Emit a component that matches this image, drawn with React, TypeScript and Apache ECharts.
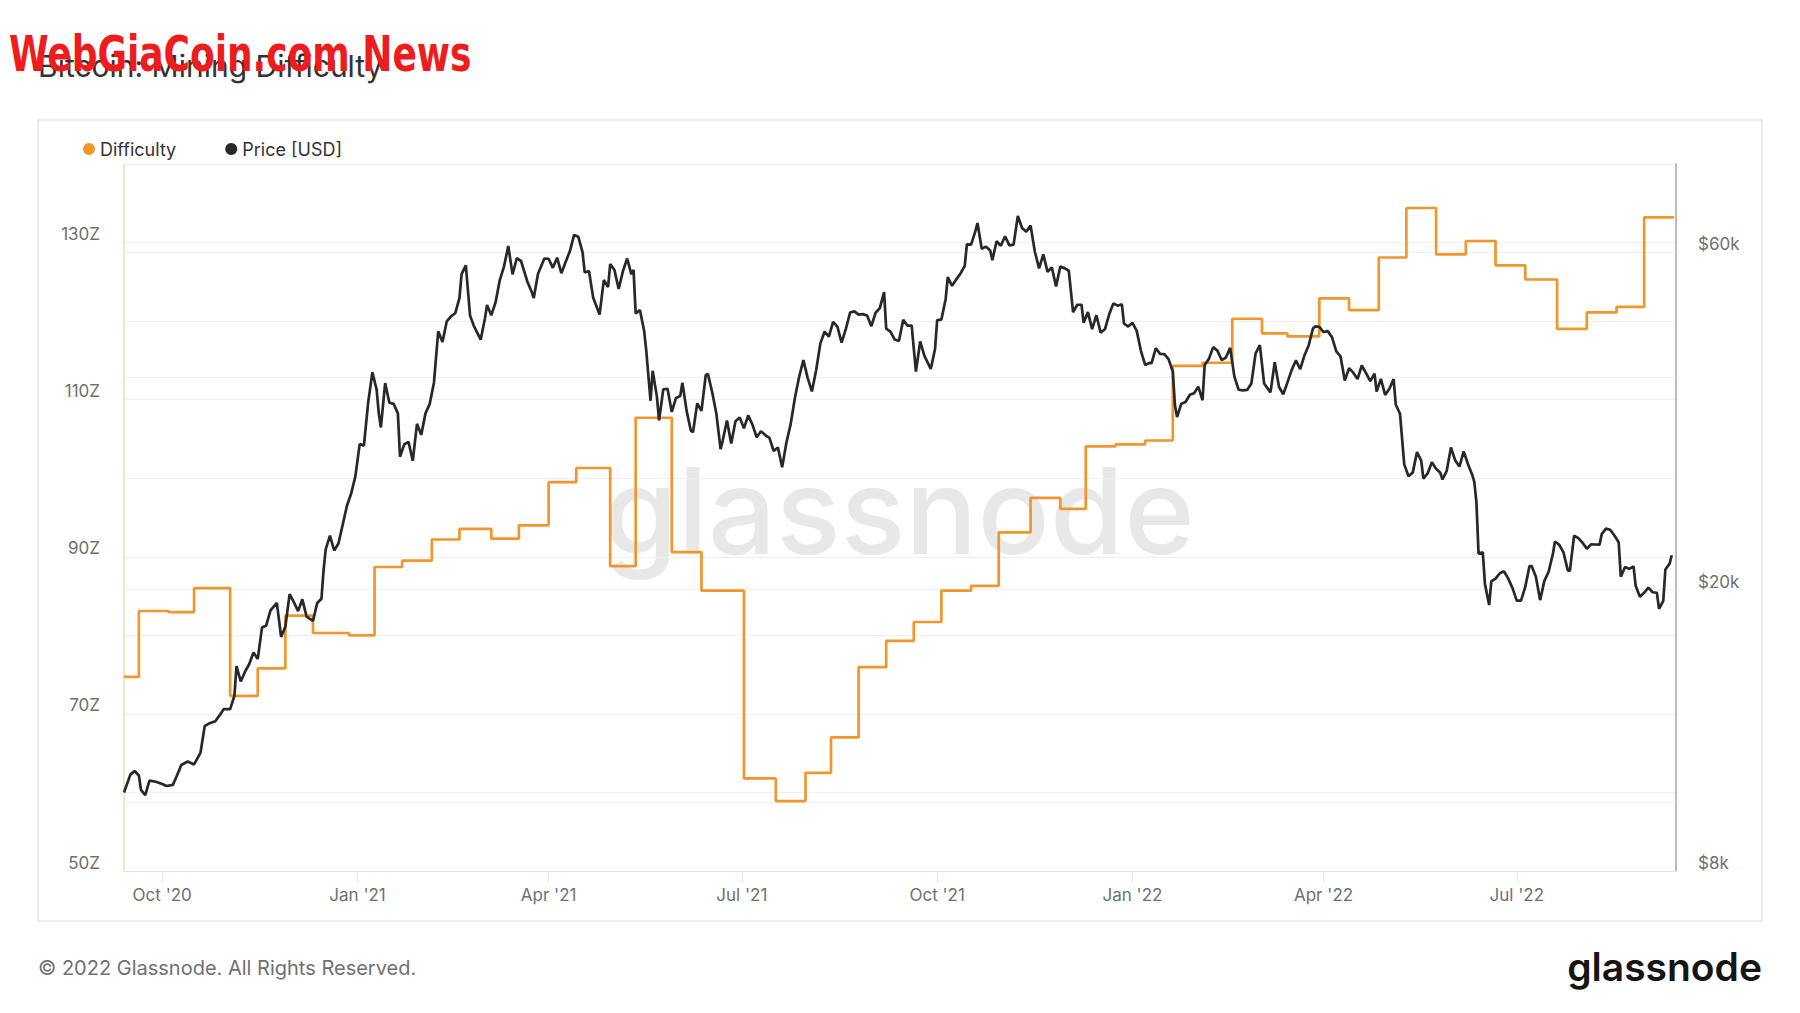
import React, { useEffect, useRef } from "react";
import * as echarts from "echarts";

// ---------- data ----------
const xRange: [string, string] = ["2020-09-13", "2022-09-14"];
const xTickDates = ["2020-10-01", "2021-01-01", "2021-04-01", "2021-07-01", "2021-10-01", "2022-01-01", "2022-04-01", "2022-07-01"];

const diffAxis = { min: 50, max: 140, interval: 10 };
const diffLabelValues = [50, 70, 90, 110, 130];
const priceAxis = { min: 8000, max: 80000 };
const priceGridValues = [10000, 20000, 40000, 60000];
const priceLabelValues = [8000, 20000, 60000];

// Difficulty (Z hashes), value holds from the date to the next one
const difficultySteps: [string, number][] = [
  ["2020-09-13", 74.7], ["2020-09-20", 83.1], ["2020-10-04", 82.95], ["2020-10-16", 86.0],
  ["2020-11-02", 72.3], ["2020-11-15", 75.8], ["2020-11-28", 82.5], ["2020-12-11", 80.3],
  ["2020-12-28", 80.0], ["2021-01-09", 88.7], ["2021-01-22", 89.5], ["2021-02-05", 92.2],
  ["2021-02-18", 93.55], ["2021-03-05", 92.3], ["2021-03-18", 94.0], ["2021-04-01", 99.5],
  ["2021-04-14", 101.3], ["2021-04-30", 88.8], ["2021-05-12", 107.7], ["2021-05-29", 90.6],
  ["2021-06-12", 85.7], ["2021-07-02", 61.8], ["2021-07-17", 58.9], ["2021-07-31", 62.5],
  ["2021-08-12", 67.0], ["2021-08-25", 75.95], ["2021-09-07", 79.3], ["2021-09-20", 81.7],
  ["2021-10-03", 85.7], ["2021-10-17", 86.3], ["2021-10-30", 93.1], ["2021-11-14", 97.5],
  ["2021-11-28", 96.1], ["2021-12-10", 104.05], ["2021-12-24", 104.3], ["2022-01-07", 104.8],
  ["2022-01-20", 114.3], ["2022-02-03", 114.7], ["2022-02-17", 120.3], ["2022-03-03", 118.45],
  ["2022-03-15", 118.05], ["2022-03-30", 122.9], ["2022-04-13", 121.4], ["2022-04-27", 128.1],
  ["2022-05-10", 134.4], ["2022-05-24", 128.5], ["2022-06-07", 130.2], ["2022-06-21", 127.1],
  ["2022-07-05", 125.3], ["2022-07-20", 119.0], ["2022-08-03", 121.1], ["2022-08-17", 121.8],
  ["2022-08-30", 133.2], ["2022-09-13", 133.2],
];

// Price [USD]
const price2020: [string, number][] = [
  ["2020-09-13", 10330], ["2020-09-16", 10950], ["2020-09-18", 11080], ["2020-09-20", 10920],
  ["2020-09-21", 10420], ["2020-09-23", 10240], ["2020-09-25", 10740], ["2020-09-28", 10700],
  ["2020-10-01", 10620], ["2020-10-03", 10550], ["2020-10-06", 10590], ["2020-10-08", 10930],
  ["2020-10-10", 11300], ["2020-10-13", 11430], ["2020-10-16", 11320], ["2020-10-19", 11750],
  ["2020-10-21", 12820], ["2020-10-23", 12930], ["2020-10-26", 13030], ["2020-10-28", 13280],
  ["2020-10-30", 13560], ["2020-11-02", 13550], ["2020-11-04", 14150], ["2020-11-05", 15590],
  ["2020-11-07", 14830], ["2020-11-09", 15310], ["2020-11-11", 15700], ["2020-11-13", 16300],
  ["2020-11-15", 15960], ["2020-11-17", 17680], ["2020-11-19", 17800], ["2020-11-21", 18700],
  ["2020-11-24", 19160], ["2020-11-26", 17150], ["2020-11-28", 17730], ["2020-11-30", 19710],
  ["2020-12-02", 19200], ["2020-12-04", 18650], ["2020-12-06", 19380], ["2020-12-08", 18320],
  ["2020-12-11", 18060], ["2020-12-13", 19150], ["2020-12-15", 19420], ["2020-12-16", 21310],
  ["2020-12-17", 22800], ["2020-12-19", 23850], ["2020-12-21", 22720], ["2020-12-23", 23240],
  ["2020-12-25", 24710], ["2020-12-27", 26280], ["2020-12-29", 27360], ["2020-12-31", 28950],
];
const price2021: [string, number][] = [
  ["2021-01-02", 32130], ["2021-01-04", 31970], ["2021-01-06", 36770], ["2021-01-08", 40600],
  ["2021-01-10", 38350], ["2021-01-11", 35520], ["2021-01-12", 33920], ["2021-01-14", 39190],
  ["2021-01-16", 36770], ["2021-01-18", 36630], ["2021-01-20", 35510], ["2021-01-21", 30830],
  ["2021-01-23", 32100], ["2021-01-25", 32370], ["2021-01-27", 30430], ["2021-01-29", 34320],
  ["2021-01-31", 33110], ["2021-02-02", 35510], ["2021-02-04", 36630], ["2021-02-06", 39270],
  ["2021-02-08", 46400], ["2021-02-10", 44800], ["2021-02-12", 47910], ["2021-02-14", 48720],
  ["2021-02-16", 49200], ["2021-02-18", 51680], ["2021-02-19", 55890], ["2021-02-21", 57490],
  ["2021-02-23", 48820], ["2021-02-25", 47060], ["2021-02-28", 45140], ["2021-03-02", 48380],
  ["2021-03-03", 50540], ["2021-03-05", 48880], ["2021-03-07", 50970], ["2021-03-09", 54820],
  ["2021-03-11", 57330], ["2021-03-13", 61240], ["2021-03-15", 55850], ["2021-03-17", 58860],
  ["2021-03-19", 58330], ["2021-03-22", 54530], ["2021-03-24", 52770], ["2021-03-25", 51700],
  ["2021-03-27", 55950], ["2021-03-30", 58800], ["2021-04-01", 58760], ["2021-04-03", 57050],
  ["2021-04-05", 58970], ["2021-04-07", 56050], ["2021-04-09", 58150], ["2021-04-11", 60200],
  ["2021-04-13", 63500], ["2021-04-15", 63110], ["2021-04-17", 60000], ["2021-04-18", 56200],
  ["2021-04-20", 56470], ["2021-04-22", 51760], ["2021-04-25", 49000], ["2021-04-27", 54820],
  ["2021-04-29", 53570], ["2021-04-30", 57750], ["2021-05-02", 56630], ["2021-05-04", 53250],
  ["2021-05-06", 56440], ["2021-05-08", 58800], ["2021-05-10", 55860], ["2021-05-11", 56700],
  ["2021-05-12", 49150], ["2021-05-14", 49720], ["2021-05-16", 46430], ["2021-05-17", 43540],
  ["2021-05-19", 37000], ["2021-05-20", 40800], ["2021-05-22", 37500], ["2021-05-23", 34700],
  ["2021-05-25", 38400], ["2021-05-27", 38480], ["2021-05-29", 35680], ["2021-05-31", 37340],
  ["2021-06-02", 37570], ["2021-06-03", 39250], ["2021-06-05", 35800], ["2021-06-07", 33560],
  ["2021-06-08", 33400], ["2021-06-10", 36690], ["2021-06-12", 35800], ["2021-06-14", 40220],
  ["2021-06-15", 40400], ["2021-06-17", 38100], ["2021-06-19", 35500], ["2021-06-21", 31600],
  ["2021-06-22", 32500], ["2021-06-24", 34700], ["2021-06-26", 32190], ["2021-06-28", 34600],
  ["2021-06-30", 35040], ["2021-07-02", 33820], ["2021-07-04", 35280], ["2021-07-06", 34240],
  ["2021-07-08", 32860], ["2021-07-10", 33510], ["2021-07-12", 33090], ["2021-07-14", 32780],
  ["2021-07-16", 31420], ["2021-07-18", 31780], ["2021-07-20", 29790], ["2021-07-22", 32290],
  ["2021-07-24", 34290], ["2021-07-26", 37340], ["2021-07-28", 40010], ["2021-07-30", 42240],
  ["2021-08-01", 39870], ["2021-08-03", 38150], ["2021-08-05", 40870], ["2021-08-07", 44600],
  ["2021-08-09", 46360], ["2021-08-11", 45590], ["2021-08-13", 47830], ["2021-08-15", 47100],
  ["2021-08-17", 44700], ["2021-08-19", 46770], ["2021-08-21", 49320], ["2021-08-23", 49510],
  ["2021-08-25", 48990], ["2021-08-27", 49060], ["2021-08-29", 48830], ["2021-08-31", 47170],
  ["2021-09-02", 49280], ["2021-09-04", 50030], ["2021-09-06", 52700], ["2021-09-07", 46810],
  ["2021-09-09", 46360], ["2021-09-11", 45160], ["2021-09-13", 44960], ["2021-09-15", 48150],
  ["2021-09-17", 47260], ["2021-09-19", 47260], ["2021-09-21", 40690], ["2021-09-23", 44880],
  ["2021-09-25", 42830], ["2021-09-28", 41030], ["2021-09-30", 43790], ["2021-10-01", 48120],
  ["2021-10-03", 48200], ["2021-10-05", 51510], ["2021-10-06", 55330], ["2021-10-08", 53800],
  ["2021-10-10", 54940], ["2021-10-12", 56010], ["2021-10-14", 57420], ["2021-10-15", 61590],
  ["2021-10-17", 61530], ["2021-10-19", 64280], ["2021-10-20", 66000], ["2021-10-22", 60690],
  ["2021-10-24", 61120], ["2021-10-26", 60360], ["2021-10-27", 58480], ["2021-10-29", 62210],
  ["2021-10-31", 61310], ["2021-11-02", 63230], ["2021-11-04", 61370], ["2021-11-06", 61520],
  ["2021-11-08", 67550], ["2021-11-10", 64950], ["2021-11-12", 64160], ["2021-11-14", 65470],
  ["2021-11-16", 60160], ["2021-11-18", 56940], ["2021-11-20", 59590], ["2021-11-22", 56290],
  ["2021-11-24", 57140], ["2021-11-26", 53700], ["2021-11-28", 57270], ["2021-11-30", 56990],
  ["2021-12-02", 56510], ["2021-12-04", 49370], ["2021-12-06", 50580], ["2021-12-08", 50580],
  ["2021-12-09", 47690], ["2021-12-11", 49390], ["2021-12-13", 46730], ["2021-12-15", 48890],
  ["2021-12-17", 46190], ["2021-12-19", 46700], ["2021-12-21", 48990], ["2021-12-23", 50810],
  ["2021-12-25", 50430], ["2021-12-27", 50640], ["2021-12-28", 47590], ["2021-12-30", 47120],
];
const price2022: [string, number][] = [
  ["2022-01-01", 47690], ["2022-01-03", 46460], ["2022-01-05", 43500], ["2022-01-07", 41570],
  ["2022-01-09", 41860], ["2022-01-10", 41820], ["2022-01-12", 43910], ["2022-01-14", 43100],
  ["2022-01-16", 43080], ["2022-01-18", 42380], ["2022-01-20", 40680], ["2022-01-21", 36460],
  ["2022-01-22", 35080], ["2022-01-24", 36650], ["2022-01-26", 36850], ["2022-01-28", 37730],
  ["2022-01-30", 37920], ["2022-02-01", 38740], ["2022-02-03", 37060], ["2022-02-04", 41570],
  ["2022-02-06", 42410], ["2022-02-08", 44060], ["2022-02-10", 43570], ["2022-02-12", 42250],
  ["2022-02-14", 42590], ["2022-02-16", 43960], ["2022-02-18", 40030], ["2022-02-20", 38350],
  ["2022-02-22", 38280], ["2022-02-24", 38330], ["2022-02-26", 39140], ["2022-02-28", 43190],
  ["2022-03-02", 44350], ["2022-03-04", 39150], ["2022-03-06", 38400], ["2022-03-07", 38020],
  ["2022-03-09", 41940], ["2022-03-11", 38730], ["2022-03-13", 37790], ["2022-03-15", 39280],
  ["2022-03-17", 40920], ["2022-03-19", 42210], ["2022-03-21", 41020], ["2022-03-23", 42890],
  ["2022-03-25", 44330], ["2022-03-27", 46820], ["2022-03-28", 47130], ["2022-03-30", 47060],
  ["2022-04-01", 46280], ["2022-04-03", 46420], ["2022-04-05", 45500], ["2022-04-07", 43450],
  ["2022-04-09", 42750], ["2022-04-11", 39520], ["2022-04-13", 41150], ["2022-04-15", 40550],
  ["2022-04-17", 39710], ["2022-04-19", 41500], ["2022-04-21", 40480], ["2022-04-23", 39450],
  ["2022-04-25", 40430], ["2022-04-26", 38120], ["2022-04-28", 39740], ["2022-04-30", 37710],
  ["2022-05-02", 38470], ["2022-05-04", 39700], ["2022-05-05", 36550], ["2022-05-07", 35470],
  ["2022-05-09", 30080], ["2022-05-11", 28940], ["2022-05-13", 29280], ["2022-05-15", 31300],
  ["2022-05-17", 30440], ["2022-05-18", 28720], ["2022-05-20", 29200], ["2022-05-22", 30290],
  ["2022-05-24", 29650], ["2022-05-26", 29270], ["2022-05-27", 28630], ["2022-05-29", 29440],
  ["2022-05-31", 31790], ["2022-06-02", 30470], ["2022-06-04", 29860], ["2022-06-06", 31370],
  ["2022-06-08", 30110], ["2022-06-10", 29080], ["2022-06-11", 28420], ["2022-06-12", 26590],
  ["2022-06-13", 22490], ["2022-06-15", 22580], ["2022-06-16", 20380], ["2022-06-18", 19020],
  ["2022-06-19", 20550], ["2022-06-21", 20730], ["2022-06-23", 21100], ["2022-06-25", 21230],
  ["2022-06-27", 20730], ["2022-06-29", 20100], ["2022-07-01", 19300], ["2022-07-03", 19300],
  ["2022-07-05", 20180], ["2022-07-07", 21600], ["2022-07-08", 21600], ["2022-07-10", 20860],
  ["2022-07-12", 19330], ["2022-07-14", 20580], ["2022-07-16", 21200], ["2022-07-18", 22460],
  ["2022-07-19", 23400], ["2022-07-21", 23150], ["2022-07-23", 22580], ["2022-07-25", 21310],
  ["2022-07-26", 21250], ["2022-07-28", 23850], ["2022-07-30", 23650], ["2022-08-01", 23300],
  ["2022-08-03", 22850], ["2022-08-05", 23180], ["2022-08-07", 23170], ["2022-08-09", 23160],
  ["2022-08-10", 23960], ["2022-08-12", 24400], ["2022-08-14", 24310], ["2022-08-16", 23860],
  ["2022-08-18", 23340], ["2022-08-19", 20870], ["2022-08-21", 21530], ["2022-08-23", 21400],
  ["2022-08-25", 21570], ["2022-08-26", 20260], ["2022-08-28", 19550], ["2022-08-30", 19800],
  ["2022-09-01", 20130], ["2022-09-03", 19830], ["2022-09-05", 19800], ["2022-09-06", 18790],
  ["2022-09-08", 19290], ["2022-09-09", 21360], ["2022-09-11", 21770], ["2022-09-12", 22370],
];

// ---------- helpers ----------
const MONTHS = ["Jan", "Feb", "Mar", "Apr", "May", "Jun", "Jul", "Aug", "Sep", "Oct", "Nov", "Dec"];
const ts = (s: string) => new Date(s + "T00:00:00").getTime();
const FONT = "Inter, 'Noto Sans', sans-serif";
const ORANGE = "#f1962c";
const DARK = "#282828";
const GRID = "#f0f0f0";
const LABEL = "#6f6f6f";

export default function App() {
  const ref = useRef<HTMLDivElement>(null);

  useEffect(() => {
    if (!ref.current) return;
    const chart = echarts.init(ref.current, undefined, { renderer: "svg" });
    const xTicks = xTickDates.map(ts);
    const priceData = [...price2020, ...price2021, ...price2022].map(([d, v]) => [ts(d), v]);
    const diffData = difficultySteps.map(([d, v]) => [ts(d), v]);
    const priceMarkValues = Array.from(new Set([...priceLabelValues, ...priceGridValues])).sort((a, b) => a - b);

    chart.setOption({
      animation: false,
      textStyle: { fontFamily: FONT },
      grid: { left: 124, right: 124, top: 164, bottom: 142, containLabel: false },
      legend: {
        left: 83,
        top: 140,
        padding: 0,
        icon: "circle",
        itemWidth: 12,
        itemHeight: 12,
        itemGap: 49,
        data: ["Difficulty", "Price [USD]"],
        textStyle: { color: "#333", fontSize: 18, fontFamily: FONT },
      },
      xAxis: {
        type: "value",
        min: ts(xRange[0]),
        max: ts(xRange[1]),
        axisLine: { show: true, lineStyle: { color: "#e2e2e2", width: 1 } },
        axisTick: { show: true, customValues: xTicks, length: 12, lineStyle: { color: "#e6e6e6" } },
        axisLabel: {
          customValues: xTicks,
          margin: 15,
          color: LABEL,
          fontSize: 17,
          fontFamily: FONT,
          formatter: (v: number) => {
            const d = new Date(v);
            return `${MONTHS[d.getMonth()]} '${String(d.getFullYear()).slice(2)}`;
          },
        },
        splitLine: { show: false },
      },
      yAxis: [
        {
          type: "value",
          position: "left",
          min: diffAxis.min,
          max: diffAxis.max,
          interval: diffAxis.interval,
          axisLine: { show: true, lineStyle: { color: "#ecdcbb", width: 1.5 } },
          axisTick: { show: false },
          axisLabel: {
            margin: 24,
            color: LABEL,
            fontSize: 17,
            fontFamily: FONT,
            verticalAlign: "bottom",
            formatter: (v: number) => (diffLabelValues.includes(v) ? `${v}Z` : ""),
          },
          splitLine: { show: true, lineStyle: { color: GRID, width: 1 } },
        },
        {
          type: "log",
          logBase: 10,
          position: "right",
          min: priceAxis.min,
          max: priceAxis.max,
          axisLine: { show: true, lineStyle: { color: "#a3a3a3", width: 1.5 } },
          axisTick: { show: false },
          axisLabel: { show: false },
          splitLine: { show: false },
        },
      ],
      graphic: [
        {
          type: "rect",
          silent: true,
          z: -10,
          shape: { x: 38, y: 120, width: 1724, height: 801 },
          style: { fill: "none", stroke: "#e6e6e6", lineWidth: 1.5 },
        },
        {
          type: "text",
          silent: true,
          z: -5,
          x: 899,
          y: 510,
          style: {
            text: "glassnode",
            align: "center",
            verticalAlign: "middle",
            fontSize: 120,
            fontWeight: 500,
            fontFamily: FONT,
            fill: "#e8e8e8",
          },
        },
        {
          type: "text",
          silent: true,
          x: 38,
          y: 66,
          style: {
            text: "Bitcoin: Mining Difficulty",
            verticalAlign: "middle",
            fontSize: 30,
            fontFamily: FONT,
            fill: "#333",
          },
        },
        {
          type: "text",
          silent: true,
          z: 100,
          x: 9,
          y: 54,
          scaleX: 0.8,
          style: {
            text: "WebGiaCoin.com News",
            verticalAlign: "middle",
            fontSize: 50,
            fontWeight: "bold",
            fontFamily: "'Liberation Sans Narrow', 'DejaVu Sans Condensed', sans-serif",
            fill: "#ee1c1c",
          },
        },
        {
          type: "text",
          silent: true,
          x: 38,
          y: 968,
          style: {
            text: "© 2022 Glassnode. All Rights Reserved.",
            verticalAlign: "middle",
            fontSize: 20,
            fontFamily: FONT,
            fill: "#707070",
          },
        },
        {
          type: "text",
          silent: true,
          x: 1762,
          y: 966,
          style: {
            text: "glassnode",
            align: "right",
            verticalAlign: "middle",
            fontSize: 39,
            fontWeight: 600,
            fontFamily: FONT,
            fill: "#151515",
          },
        },
      ],
      series: [
        {
          name: "Difficulty",
          type: "line",
          yAxisIndex: 0,
          step: "end",
          symbol: "none",
          data: diffData,
          lineStyle: { color: ORANGE, width: 2.7 },
          itemStyle: { color: ORANGE },
          z: 3,
        },
        {
          name: "Price [USD]",
          type: "line",
          yAxisIndex: 1,
          symbol: "none",
          data: priceData,
          lineStyle: { color: DARK, width: 2.7 },
          itemStyle: { color: DARK },
          z: 4,
          markLine: {
            silent: true,
            symbol: ["none", "none"],
            animation: false,
            z: 1,
            data: priceMarkValues.map((v) => ({
              yAxis: v,
              lineStyle: {
                color: priceGridValues.includes(v) ? GRID : "rgba(0,0,0,0)",
                width: 1,
                type: "solid",
              },
              label: {
                show: priceLabelValues.includes(v),
                position: "end",
                distance: 22,
                formatter: `$${v / 1000}k\n `,
                color: LABEL,
                fontSize: 17,
                lineHeight: 16,
                fontFamily: FONT,
              },
            })),
          },
        },
      ],
    });
    return () => chart.dispose();
  }, []);

  return (
    <div
      ref={ref}
      style={{ position: "absolute", left: 0, top: 0, width: 1800, height: 1013, background: "#fff" }}
    />
  );
}
